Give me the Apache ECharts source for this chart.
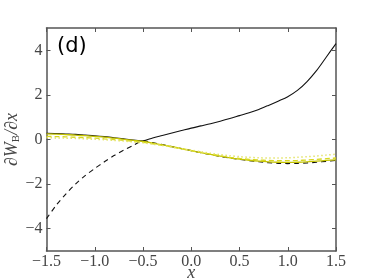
<!DOCTYPE html>
<html><head><meta charset="utf-8">
<script src="https://cdn.jsdelivr.net/npm/echarts@6/dist/echarts.min.js"></script>
<style>html,body{margin:0;padding:0;background:#fff}#c{width:374px;height:280px}</style>
</head><body><div id="c"></div>
<script>
var xs = [-1.5,-1.4,-1.3,-1.2,-1.1,-1.0,-0.9,-0.8,-0.7,-0.6,-0.5,-0.4,-0.3,-0.2,-0.1,0.0,0.1,0.2,0.3,0.4,0.5,0.6,0.7,0.8,0.9,1.0,1.1,1.2,1.3,1.4,1.5];
var solidBlack = [0.28,0.27,0.25,0.23,0.20,0.17,0.13,0.08,0.03,-0.02,-0.06,0.07,0.18,0.29,0.40,0.51,0.61,0.71,0.82,0.94,1.07,1.20,1.35,1.53,1.72,1.92,2.20,2.60,3.10,3.70,4.30];
var dashedBlack = [-3.55,-2.95,-2.45,-2.0,-1.62,-1.3,-1.0,-0.72,-0.48,-0.26,-0.06,-0.14,-0.23,-0.32,-0.41,-0.50,-0.59,-0.68,-0.76,-0.83,-0.89,-0.95,-1.0,-1.04,-1.07,-1.08,-1.07,-1.05,-1.02,-0.98,-0.94];
var yellowSolid = [0.25,0.24,0.22,0.20,0.17,0.14,0.11,0.06,0.01,-0.04,-0.09,-0.16,-0.24,-0.32,-0.41,-0.50,-0.59,-0.67,-0.75,-0.82,-0.88,-0.93,-0.97,-1.0,-1.02,-1.03,-1.02,-1.0,-0.97,-0.94,-0.91];
var yellowDashed = [0.14,0.13,0.12,0.10,0.08,0.06,0.03,0.0,-0.04,-0.08,-0.13,-0.19,-0.26,-0.34,-0.42,-0.50,-0.58,-0.66,-0.73,-0.80,-0.85,-0.89,-0.92,-0.94,-0.95,-0.95,-0.94,-0.92,-0.89,-0.86,-0.83];
var yellowDotted = [0.08,0.07,0.06,0.05,0.03,0.01,-0.01,-0.04,-0.07,-0.11,-0.15,-0.21,-0.27,-0.34,-0.41,-0.48,-0.55,-0.62,-0.68,-0.73,-0.77,-0.80,-0.82,-0.83,-0.83,-0.82,-0.80,-0.77,-0.74,-0.70,-0.66];
var yTicks = [-4,-2,0,2,4];
var xTicks = [-1.5,-1.0,-0.5,0.0,0.5,1.0,1.5];
var panelLabel = '(d)';

function pairs(ys){ return xs.map(function(x,i){ return [x, ys[i]]; }); }
function fmt(v, d){ var s = Math.abs(v).toFixed(d); return (v < -1e-9 ? '\u2212' : '') + s; }

var axisColor = '#555';
var labelFont = {fontFamily:'Liberation Serif', fontSize:16, color:'#444'};
var chart = echarts.init(document.getElementById('c'), null, {renderer:'canvas'});
function line(name, ys, color, type, width, z){
  return {name:name, type:'line', data:pairs(ys), showSymbol:false, smooth:0.3, z:z,
    lineStyle:{color:color, width:width, type:type}, xAxisIndex:0, yAxisIndex:0, animation:false};
}
chart.setOption({
  animation:false,
  grid:{left:46.5, right:38, top:28, bottom:29, containLabel:false, outerBoundsMode:'none'},
  xAxis:[{type:'value', min:-1.5, max:1.5, interval:0.5, position:'bottom',
      axisLine:{onZero:false, lineStyle:{color:axisColor, width:1.5}},
      axisTick:{inside:true, length:4, lineStyle:{color:axisColor}, customValues:xTicks},
      axisLabel:Object.assign({margin:3, formatter:function(v){return fmt(v,1);}, customValues:xTicks}, labelFont),
      splitLine:{show:false},
      name:'x', nameLocation:'middle', nameGap:13, nameMoveOverlap:false,
      nameTextStyle:{fontFamily:'Liberation Serif', fontStyle:'italic', fontSize:18, color:'#444'}},
    {type:'value', min:-1.5, max:1.5, interval:0.5, position:'top',
      axisLine:{onZero:false, lineStyle:{color:axisColor, width:1.5}},
      axisTick:{inside:true, length:4, lineStyle:{color:axisColor}, customValues:xTicks},
      axisLabel:{show:false}, splitLine:{show:false}}],
  yAxis:[{type:'value', min:-5, max:5, interval:1, position:'left',
      axisLine:{onZero:false, lineStyle:{color:axisColor, width:1.5}},
      axisTick:{inside:true, length:4, lineStyle:{color:axisColor}, customValues:yTicks},
      axisLabel:Object.assign({margin:4, formatter:function(v){return fmt(v,0);}, customValues:yTicks}, labelFont),
      splitLine:{show:false},
      name:'{a|\u2202W}{b|B}{a|/\u2202x}', nameLocation:'middle', nameGap:24, nameRotate:90, nameMoveOverlap:false,
      nameTextStyle:{rich:{
        a:{fontFamily:'Liberation Serif', fontStyle:'italic', fontSize:18, color:'#444', lineHeight:20},
        b:{fontFamily:'Liberation Serif', fontSize:11, color:'#444', lineHeight:20, padding:[8,0,0,0]}}}},
    {type:'value', min:-5, max:5, interval:1, position:'right',
      axisLine:{onZero:false, lineStyle:{color:axisColor, width:1.5}},
      axisTick:{inside:true, length:4, lineStyle:{color:axisColor}, customValues:yTicks},
      axisLabel:{show:false}, splitLine:{show:false}}],
  graphic:[{type:'text', left:57, top:36, style:{text:panelLabel, fontFamily:'DejaVu Sans', fontSize:21, fill:'#000'}}],
  series:[
    line('solid', solidBlack, '#111', 'solid', 1.1, 2),
    line('dashed', dashedBlack, '#111', [5,4], 1.1, 2),
    line('ySolid', yellowSolid, '#c4c400', 'solid', 1.3, 3),
    line('yDashed', yellowDashed, '#d8d820', [5,3], 1.3, 3),
    line('yDotted', yellowDotted, '#e4e46a', [1.5,2.5], 1.5, 3)
  ]
});
</script></body></html>
